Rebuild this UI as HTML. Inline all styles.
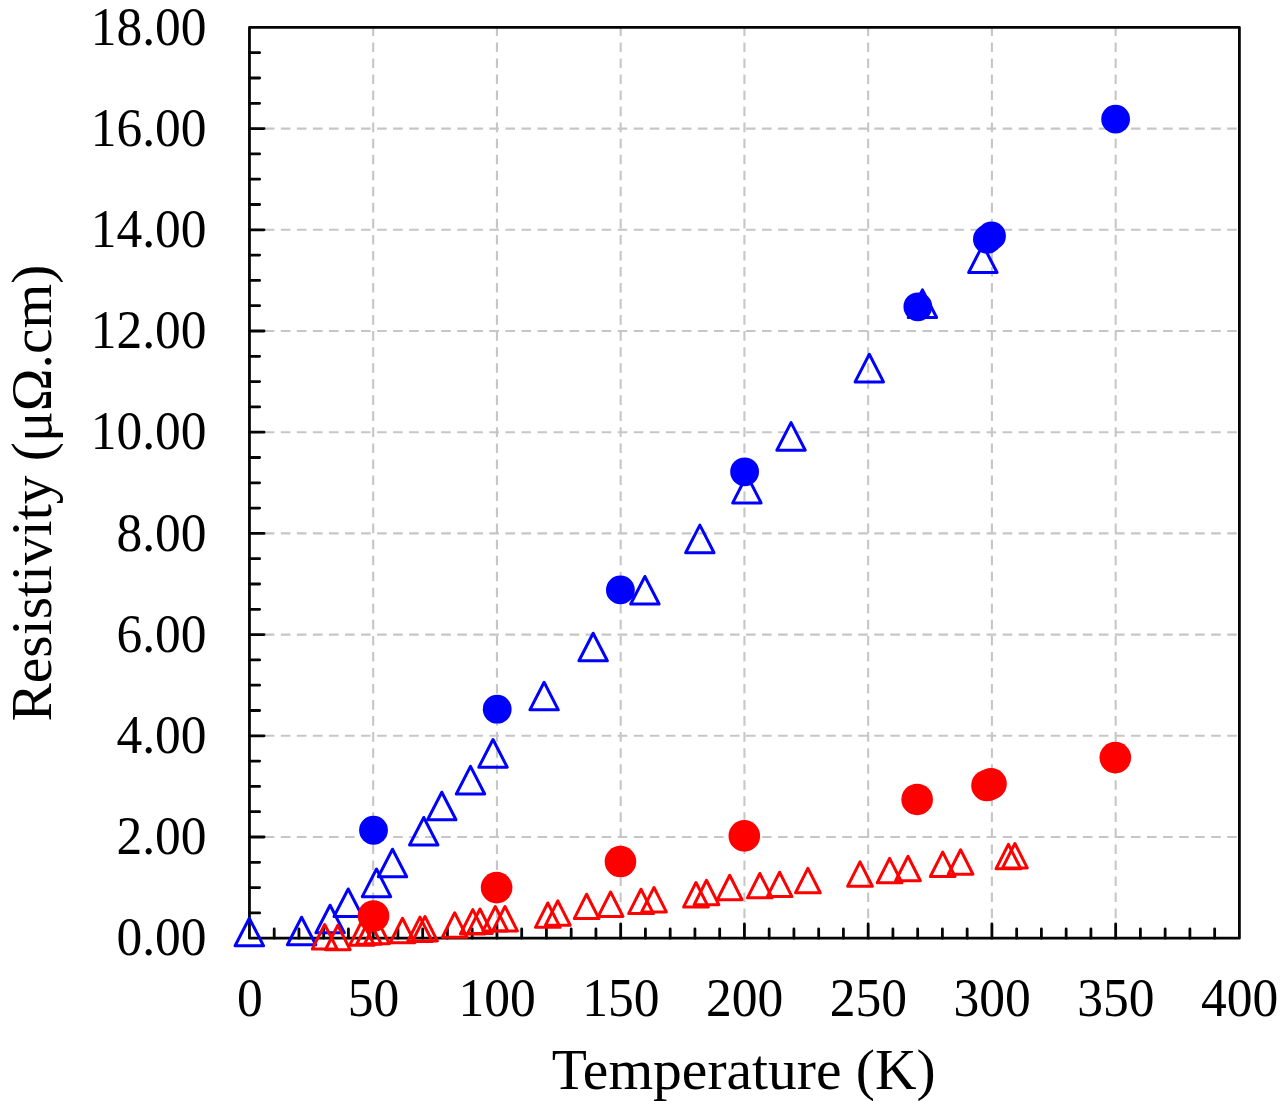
<!DOCTYPE html>
<html><head><meta charset="utf-8"><style>
html,body{margin:0;padding:0;background:#fff;width:1280px;height:1101px;overflow:hidden;}
svg{display:block;font-family:"Liberation Serif",serif;}
#w{width:1280px;height:1101px;}
</style></head><body>
<div id="w"><svg width="1280" height="1101" viewBox="0 0 1280 1101">
<line x1="373.19" y1="27.40" x2="373.19" y2="938.20" stroke="#c6c6c6" stroke-width="2.1" stroke-dasharray="9.6 6.44" stroke-dashoffset="1.04"/>
<line x1="496.94" y1="27.40" x2="496.94" y2="938.20" stroke="#c6c6c6" stroke-width="2.1" stroke-dasharray="9.6 6.44" stroke-dashoffset="1.04"/>
<line x1="620.68" y1="27.40" x2="620.68" y2="938.20" stroke="#c6c6c6" stroke-width="2.1" stroke-dasharray="9.6 6.44" stroke-dashoffset="1.04"/>
<line x1="744.42" y1="27.40" x2="744.42" y2="938.20" stroke="#c6c6c6" stroke-width="2.1" stroke-dasharray="9.6 6.44" stroke-dashoffset="1.04"/>
<line x1="868.17" y1="27.40" x2="868.17" y2="938.20" stroke="#c6c6c6" stroke-width="2.1" stroke-dasharray="9.6 6.44" stroke-dashoffset="1.04"/>
<line x1="991.91" y1="27.40" x2="991.91" y2="938.20" stroke="#c6c6c6" stroke-width="2.1" stroke-dasharray="9.6 6.44" stroke-dashoffset="1.04"/>
<line x1="1115.66" y1="27.40" x2="1115.66" y2="938.20" stroke="#c6c6c6" stroke-width="2.1" stroke-dasharray="9.6 6.44" stroke-dashoffset="1.04"/>
<line x1="249.45" y1="837.00" x2="1239.40" y2="837.00" stroke="#c6c6c6" stroke-width="2.1" stroke-dasharray="9.6 6.44" stroke-dashoffset="0.69"/>
<line x1="249.45" y1="735.80" x2="1239.40" y2="735.80" stroke="#c6c6c6" stroke-width="2.1" stroke-dasharray="9.6 6.44" stroke-dashoffset="0.69"/>
<line x1="249.45" y1="634.60" x2="1239.40" y2="634.60" stroke="#c6c6c6" stroke-width="2.1" stroke-dasharray="9.6 6.44" stroke-dashoffset="0.69"/>
<line x1="249.45" y1="533.40" x2="1239.40" y2="533.40" stroke="#c6c6c6" stroke-width="2.1" stroke-dasharray="9.6 6.44" stroke-dashoffset="0.69"/>
<line x1="249.45" y1="432.20" x2="1239.40" y2="432.20" stroke="#c6c6c6" stroke-width="2.1" stroke-dasharray="9.6 6.44" stroke-dashoffset="0.69"/>
<line x1="249.45" y1="331.00" x2="1239.40" y2="331.00" stroke="#c6c6c6" stroke-width="2.1" stroke-dasharray="9.6 6.44" stroke-dashoffset="0.69"/>
<line x1="249.45" y1="229.80" x2="1239.40" y2="229.80" stroke="#c6c6c6" stroke-width="2.1" stroke-dasharray="9.6 6.44" stroke-dashoffset="0.69"/>
<line x1="249.45" y1="128.60" x2="1239.40" y2="128.60" stroke="#c6c6c6" stroke-width="2.1" stroke-dasharray="9.6 6.44" stroke-dashoffset="0.69"/>
<path d="M274.20 938.20V929.00M298.95 938.20V929.00M323.70 938.20V929.00M348.44 938.20V929.00M373.19 938.20V924.00M397.94 938.20V929.00M422.69 938.20V929.00M447.44 938.20V929.00M472.19 938.20V929.00M496.94 938.20V924.00M521.69 938.20V929.00M546.43 938.20V929.00M571.18 938.20V929.00M595.93 938.20V929.00M620.68 938.20V924.00M645.43 938.20V929.00M670.18 938.20V929.00M694.93 938.20V929.00M719.68 938.20V929.00M744.42 938.20V924.00M769.17 938.20V929.00M793.92 938.20V929.00M818.67 938.20V929.00M843.42 938.20V929.00M868.17 938.20V924.00M892.92 938.20V929.00M917.67 938.20V929.00M942.41 938.20V929.00M967.16 938.20V929.00M991.91 938.20V924.00M1016.66 938.20V929.00M1041.41 938.20V929.00M1066.16 938.20V929.00M1090.91 938.20V929.00M1115.66 938.20V924.00M1140.40 938.20V929.00M1165.15 938.20V929.00M1189.90 938.20V929.00M1214.65 938.20V929.00M249.45 912.90H259.65M249.45 887.60H259.65M249.45 862.30H259.65M249.45 837.00H264.05M249.45 811.70H259.65M249.45 786.40H259.65M249.45 761.10H259.65M249.45 735.80H264.05M249.45 710.50H259.65M249.45 685.20H259.65M249.45 659.90H259.65M249.45 634.60H264.05M249.45 609.30H259.65M249.45 584.00H259.65M249.45 558.70H259.65M249.45 533.40H264.05M249.45 508.10H259.65M249.45 482.80H259.65M249.45 457.50H259.65M249.45 432.20H264.05M249.45 406.90H259.65M249.45 381.60H259.65M249.45 356.30H259.65M249.45 331.00H264.05M249.45 305.70H259.65M249.45 280.40H259.65M249.45 255.10H259.65M249.45 229.80H264.05M249.45 204.50H259.65M249.45 179.20H259.65M249.45 153.90H259.65M249.45 128.60H264.05M249.45 103.30H259.65M249.45 78.00H259.65M249.45 52.70H259.65" stroke="#050505" stroke-width="2.8" stroke-linecap="round" fill="none"/>
<rect x="249.45" y="27.40" width="989.95" height="910.80" fill="none" stroke="#050505" stroke-width="2.8" stroke-linejoin="round"/>
<path d="M249.30 918.20L263.50 945.80H235.10Z" fill="none" stroke="#0000ff" stroke-width="3.0" stroke-linejoin="round"/>
<path d="M301.60 917.20L315.80 944.80H287.40Z" fill="none" stroke="#0000ff" stroke-width="3.0" stroke-linejoin="round"/>
<path d="M330.10 905.20L344.30 932.80H315.90Z" fill="none" stroke="#0000ff" stroke-width="3.0" stroke-linejoin="round"/>
<path d="M348.20 888.95L362.40 916.55H334.00Z" fill="none" stroke="#0000ff" stroke-width="3.0" stroke-linejoin="round"/>
<path d="M376.50 869.05L390.70 896.65H362.30Z" fill="none" stroke="#0000ff" stroke-width="3.0" stroke-linejoin="round"/>
<path d="M392.50 849.20L406.70 876.80H378.30Z" fill="none" stroke="#0000ff" stroke-width="3.0" stroke-linejoin="round"/>
<path d="M423.75 817.45L437.95 845.05H409.55Z" fill="none" stroke="#0000ff" stroke-width="3.0" stroke-linejoin="round"/>
<path d="M441.80 792.20L456.00 819.80H427.60Z" fill="none" stroke="#0000ff" stroke-width="3.0" stroke-linejoin="round"/>
<path d="M470.50 766.35L484.70 793.95H456.30Z" fill="none" stroke="#0000ff" stroke-width="3.0" stroke-linejoin="round"/>
<path d="M493.00 739.55L507.20 767.15H478.80Z" fill="none" stroke="#0000ff" stroke-width="3.0" stroke-linejoin="round"/>
<path d="M544.10 682.25L558.30 709.85H529.90Z" fill="none" stroke="#0000ff" stroke-width="3.0" stroke-linejoin="round"/>
<path d="M593.15 633.20L607.35 660.80H578.95Z" fill="none" stroke="#0000ff" stroke-width="3.0" stroke-linejoin="round"/>
<path d="M644.90 576.45L659.10 604.05H630.70Z" fill="none" stroke="#0000ff" stroke-width="3.0" stroke-linejoin="round"/>
<path d="M699.85 525.10L714.05 552.70H685.65Z" fill="none" stroke="#0000ff" stroke-width="3.0" stroke-linejoin="round"/>
<path d="M746.90 475.30L761.10 502.90H732.70Z" fill="none" stroke="#0000ff" stroke-width="3.0" stroke-linejoin="round"/>
<path d="M791.05 422.65L805.25 450.25H776.85Z" fill="none" stroke="#0000ff" stroke-width="3.0" stroke-linejoin="round"/>
<path d="M869.30 354.30L883.50 381.90H855.10Z" fill="none" stroke="#0000ff" stroke-width="3.0" stroke-linejoin="round"/>
<path d="M922.45 289.90L936.65 317.50H908.25Z" fill="none" stroke="#0000ff" stroke-width="3.0" stroke-linejoin="round"/>
<path d="M982.85 244.85L997.05 272.45H968.65Z" fill="none" stroke="#0000ff" stroke-width="3.0" stroke-linejoin="round"/>
<circle cx="373.50" cy="830.25" r="14.4" fill="#0000ff"/>
<circle cx="497.20" cy="709.20" r="14.4" fill="#0000ff"/>
<circle cx="620.40" cy="589.90" r="14.4" fill="#0000ff"/>
<circle cx="744.60" cy="471.80" r="14.4" fill="#0000ff"/>
<circle cx="917.85" cy="306.80" r="14.4" fill="#0000ff"/>
<circle cx="987.40" cy="239.20" r="14.4" fill="#0000ff"/>
<circle cx="991.50" cy="235.90" r="14.4" fill="#0000ff"/>
<circle cx="1115.60" cy="119.10" r="14.4" fill="#0000ff"/>
<path d="M324.70 924.50L337.05 948.90H312.35Z" fill="none" stroke="#ff0000" stroke-width="3.0" stroke-linejoin="round"/>
<path d="M337.80 925.30L350.15 949.70H325.45Z" fill="none" stroke="#ff0000" stroke-width="3.0" stroke-linejoin="round"/>
<path d="M362.00 920.80L374.35 945.20H349.65Z" fill="none" stroke="#ff0000" stroke-width="3.0" stroke-linejoin="round"/>
<path d="M369.00 919.80L381.35 944.20H356.65Z" fill="none" stroke="#ff0000" stroke-width="3.0" stroke-linejoin="round"/>
<path d="M377.00 919.30L389.35 943.70H364.65Z" fill="none" stroke="#ff0000" stroke-width="3.0" stroke-linejoin="round"/>
<path d="M402.50 918.30L414.85 942.70H390.15Z" fill="none" stroke="#ff0000" stroke-width="3.0" stroke-linejoin="round"/>
<path d="M420.00 917.10L432.35 941.50H407.65Z" fill="none" stroke="#ff0000" stroke-width="3.0" stroke-linejoin="round"/>
<path d="M425.00 916.50L437.35 940.90H412.65Z" fill="none" stroke="#ff0000" stroke-width="3.0" stroke-linejoin="round"/>
<path d="M454.70 912.80L467.05 937.20H442.35Z" fill="none" stroke="#ff0000" stroke-width="3.0" stroke-linejoin="round"/>
<path d="M472.80 909.60L485.15 934.00H460.45Z" fill="none" stroke="#ff0000" stroke-width="3.0" stroke-linejoin="round"/>
<path d="M480.00 909.00L492.35 933.40H467.65Z" fill="none" stroke="#ff0000" stroke-width="3.0" stroke-linejoin="round"/>
<path d="M495.30 906.50L507.65 930.90H482.95Z" fill="none" stroke="#ff0000" stroke-width="3.0" stroke-linejoin="round"/>
<path d="M505.00 906.50L517.35 930.90H492.65Z" fill="none" stroke="#ff0000" stroke-width="3.0" stroke-linejoin="round"/>
<path d="M547.80 902.95L560.15 927.35H535.45Z" fill="none" stroke="#ff0000" stroke-width="3.0" stroke-linejoin="round"/>
<path d="M557.80 900.90L570.15 925.30H545.45Z" fill="none" stroke="#ff0000" stroke-width="3.0" stroke-linejoin="round"/>
<path d="M586.60 894.20L598.95 918.60H574.25Z" fill="none" stroke="#ff0000" stroke-width="3.0" stroke-linejoin="round"/>
<path d="M610.60 892.00L622.95 916.40H598.25Z" fill="none" stroke="#ff0000" stroke-width="3.0" stroke-linejoin="round"/>
<path d="M641.00 889.20L653.35 913.60H628.65Z" fill="none" stroke="#ff0000" stroke-width="3.0" stroke-linejoin="round"/>
<path d="M654.00 887.50L666.35 911.90H641.65Z" fill="none" stroke="#ff0000" stroke-width="3.0" stroke-linejoin="round"/>
<path d="M696.00 882.50L708.35 906.90H683.65Z" fill="none" stroke="#ff0000" stroke-width="3.0" stroke-linejoin="round"/>
<path d="M706.50 880.30L718.85 904.70H694.15Z" fill="none" stroke="#ff0000" stroke-width="3.0" stroke-linejoin="round"/>
<path d="M729.70 875.30L742.05 899.70H717.35Z" fill="none" stroke="#ff0000" stroke-width="3.0" stroke-linejoin="round"/>
<path d="M759.80 873.45L772.15 897.85H747.45Z" fill="none" stroke="#ff0000" stroke-width="3.0" stroke-linejoin="round"/>
<path d="M779.60 872.20L791.95 896.60H767.25Z" fill="none" stroke="#ff0000" stroke-width="3.0" stroke-linejoin="round"/>
<path d="M807.90 868.40L820.25 892.80H795.55Z" fill="none" stroke="#ff0000" stroke-width="3.0" stroke-linejoin="round"/>
<path d="M860.00 861.90L872.35 886.30H847.65Z" fill="none" stroke="#ff0000" stroke-width="3.0" stroke-linejoin="round"/>
<path d="M889.60 858.40L901.95 882.80H877.25Z" fill="none" stroke="#ff0000" stroke-width="3.0" stroke-linejoin="round"/>
<path d="M908.00 856.30L920.35 880.70H895.65Z" fill="none" stroke="#ff0000" stroke-width="3.0" stroke-linejoin="round"/>
<path d="M942.70 852.15L955.05 876.55H930.35Z" fill="none" stroke="#ff0000" stroke-width="3.0" stroke-linejoin="round"/>
<path d="M960.60 849.80L972.95 874.20H948.25Z" fill="none" stroke="#ff0000" stroke-width="3.0" stroke-linejoin="round"/>
<path d="M1008.40 844.40L1020.75 868.80H996.05Z" fill="none" stroke="#ff0000" stroke-width="3.0" stroke-linejoin="round"/>
<path d="M1014.90 843.50L1027.25 867.90H1002.55Z" fill="none" stroke="#ff0000" stroke-width="3.0" stroke-linejoin="round"/>
<circle cx="373.50" cy="916.00" r="15.8" fill="#ff0000"/>
<circle cx="496.60" cy="887.60" r="15.8" fill="#ff0000"/>
<circle cx="620.45" cy="861.55" r="15.8" fill="#ff0000"/>
<circle cx="744.30" cy="835.90" r="15.8" fill="#ff0000"/>
<circle cx="917.15" cy="799.45" r="15.8" fill="#ff0000"/>
<circle cx="987.00" cy="785.50" r="15.8" fill="#ff0000"/>
<circle cx="991.00" cy="783.80" r="15.8" fill="#ff0000"/>
<circle cx="1115.30" cy="757.60" r="15.8" fill="#ff0000"/>
<g font-family="Liberation Serif, serif" font-size="51.5" fill="#000"><text transform="translate(206.5 955.40) scale(1 1.065)" text-anchor="end">0.00</text><text transform="translate(206.5 854.20) scale(1 1.065)" text-anchor="end">2.00</text><text transform="translate(206.5 753.00) scale(1 1.065)" text-anchor="end">4.00</text><text transform="translate(206.5 651.80) scale(1 1.065)" text-anchor="end">6.00</text><text transform="translate(206.5 550.60) scale(1 1.065)" text-anchor="end">8.00</text><text transform="translate(206.5 449.40) scale(1 1.065)" text-anchor="end">10.00</text><text transform="translate(206.5 348.20) scale(1 1.065)" text-anchor="end">12.00</text><text transform="translate(206.5 247.00) scale(1 1.065)" text-anchor="end">14.00</text><text transform="translate(206.5 145.80) scale(1 1.065)" text-anchor="end">16.00</text><text transform="translate(206.5 44.60) scale(1 1.065)" text-anchor="end">18.00</text><text transform="translate(249.75 1015.7) scale(1 1.065)" text-anchor="middle">0</text><text transform="translate(373.49 1015.7) scale(1 1.065)" text-anchor="middle">50</text><text transform="translate(497.24 1015.7) scale(1 1.065)" text-anchor="middle">100</text><text transform="translate(620.98 1015.7) scale(1 1.065)" text-anchor="middle">150</text><text transform="translate(744.72 1015.7) scale(1 1.065)" text-anchor="middle">200</text><text transform="translate(868.47 1015.7) scale(1 1.065)" text-anchor="middle">250</text><text transform="translate(992.21 1015.7) scale(1 1.065)" text-anchor="middle">300</text><text transform="translate(1115.96 1015.7) scale(1 1.065)" text-anchor="middle">350</text><text transform="translate(1239.70 1015.7) scale(1 1.065)" text-anchor="middle">400</text></g>
<text x="743.7" y="1088.5" text-anchor="middle" font-family="Liberation Serif, serif" font-size="57.5" fill="#000">Temperature (K)</text>
<text transform="translate(51 493.1) rotate(-90)" text-anchor="middle" font-family="Liberation Serif, serif" font-size="57.5" fill="#000">Resistivity (&#956;&#937;.cm)</text>
</svg></div>
</body></html>
